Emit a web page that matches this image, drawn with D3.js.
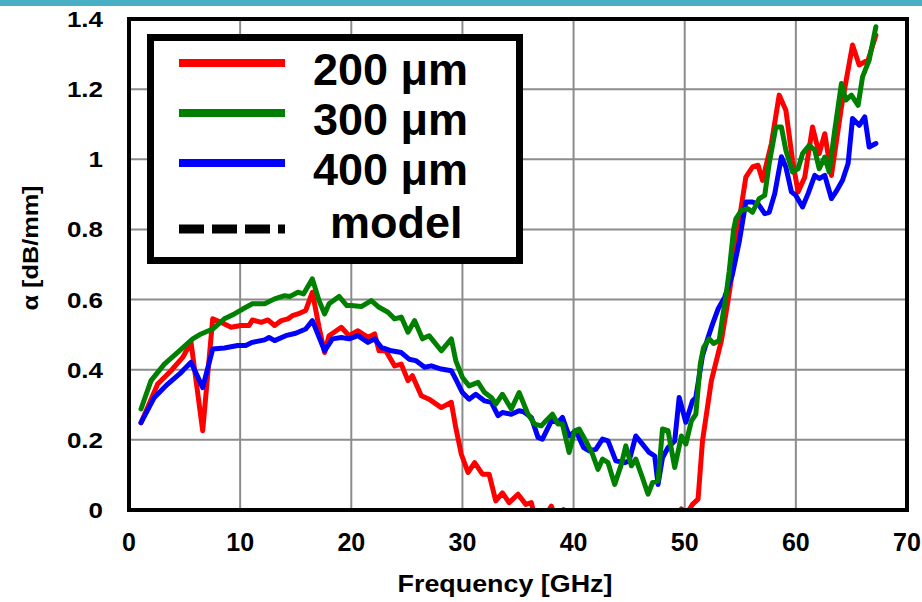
<!DOCTYPE html>
<html>
<head>
<meta charset="utf-8">
<script src="https://cdn.jsdelivr.net/npm/d3@7"></script>
<style>
    body { margin: 0; background: #fff; }
    text { font-family: Arial, "Liberation Sans", sans-serif; font-weight: bold; fill: #000; }
</style>
</head>
<body>
<div id="chart"></div>
<script>
// measured attenuation, 200 um
const freq200 = [1.08, 2.58, 3.78, 4.83, 5.58, 6.63, 7.53, 8.28, 9.18, 10.08, 10.8, 11.1, 11.9, 12.5, 13.1, 13.7, 14.3, 14.7, 15.2, 15.9, 16.5, 17.1, 17.6, 18.0, 19.1, 19.8, 20.6, 21.5, 22.1, 22.5, 23.1, 23.9, 24.5, 25.1, 25.5, 26.3, 27.0, 28.1, 29.0, 29.4, 29.9, 30.5, 31.1, 31.8, 32.4, 33.0, 33.6, 34.2, 35.0, 35.7, 36.2, 36.6, 37.4, 38.0, 38.5, 39.1, 39.8, 41.0, 42.5, 44.0, 45.5, 47.0, 48.5, 49.2, 49.7, 50.2, 50.7, 51.2, 51.6, 52.4, 53.3, 53.9, 54.5, 54.9, 55.5, 56.1, 56.6, 57.0, 57.8, 58.5, 59.1, 59.7, 60.2, 60.8, 61.5, 62.1, 62.6, 63.2, 64.1, 65.1, 65.7, 66.5, 67.2];
const alpha200 = [0.249, 0.359, 0.397, 0.435, 0.478, 0.226, 0.545, 0.535, 0.521, 0.526, 0.526, 0.542, 0.535, 0.542, 0.526, 0.54, 0.545, 0.554, 0.559, 0.569, 0.621, 0.521, 0.449, 0.497, 0.521, 0.497, 0.511, 0.492, 0.502, 0.454, 0.454, 0.411, 0.416, 0.369, 0.383, 0.326, 0.316, 0.292, 0.307, 0.235, 0.159, 0.107, 0.135, 0.102, 0.102, 0.026, 0.049, 0.021, 0.045, 0.016, 0.021, -0.03, -0.02, 0.011, -0.03, 0.001, -0.04, -0.06, -0.05, -0.07, -0.05, -0.06, -0.04, -0.02, 0.003, -0.01, 0.016, 0.031, 0.197, 0.369, 0.483, 0.597, 0.721, 0.826, 0.949, 0.978, 0.983, 0.94, 1.045, 1.183, 1.14, 0.997, 0.907, 0.949, 1.092, 1.016, 1.073, 0.954, 1.149, 1.326, 1.269, 1.283, 1.354];

// measured attenuation, 300 um
const freq300 = [1.08, 1.98, 3.18, 4.53, 5.73, 6.48, 7.53, 8.58, 9.48, 10.23, 11.1, 12.2, 13.1, 14.0, 14.5, 15.2, 15.7, 16.5, 17.1, 17.6, 18.0, 18.9, 19.6, 20.0, 20.9, 21.8, 22.5, 23.3, 23.9, 24.5, 25.1, 25.7, 26.4, 27.0, 28.1, 29.0, 29.4, 30.0, 30.6, 31.4, 32.0, 32.6, 33.0, 33.6, 34.4, 35.1, 35.9, 36.5, 37.1, 37.5, 38.1, 38.6, 39.0, 39.6, 40.1, 40.5, 41.1, 41.7, 42.2, 42.6, 43.1, 43.7, 44.3, 44.7, 45.2, 45.6, 46.2, 46.7, 47.1, 47.6, 48.0, 48.5, 49.1, 49.7, 50.1, 50.6, 51.0, 51.4, 51.7, 52.2, 52.6, 53.1, 53.4, 53.7, 54.0, 54.4, 54.6, 55.1, 55.7, 56.1, 56.7, 57.2, 57.6, 58.2, 58.7, 59.1, 59.7, 60.2, 60.6, 61.2, 61.7, 62.1, 62.6, 63.0, 63.5, 64.1, 64.5, 65.0, 65.6, 66.0, 66.6, 67.2];
const alpha300 = [0.288, 0.369, 0.416, 0.454, 0.488, 0.502, 0.516, 0.545, 0.559, 0.573, 0.588, 0.588, 0.602, 0.611, 0.609, 0.621, 0.616, 0.659, 0.597, 0.559, 0.588, 0.609, 0.583, 0.583, 0.58, 0.597, 0.578, 0.564, 0.545, 0.55, 0.507, 0.54, 0.488, 0.497, 0.454, 0.488, 0.426, 0.378, 0.354, 0.364, 0.335, 0.321, 0.302, 0.330, 0.288, 0.335, 0.273, 0.245, 0.240, 0.254, 0.273, 0.245, 0.245, 0.164, 0.226, 0.231, 0.197, 0.159, 0.116, 0.145, 0.135, 0.073, 0.130, 0.183, 0.126, 0.145, 0.092, 0.045, 0.078, 0.083, 0.231, 0.226, 0.121, 0.211, 0.188, 0.254, 0.273, 0.416, 0.464, 0.488, 0.475, 0.483, 0.549, 0.607, 0.68, 0.80, 0.83, 0.854, 0.859, 0.849, 0.888, 0.897, 0.988, 1.092, 1.092, 1.026, 0.964, 0.973, 1.016, 1.04, 1.026, 0.973, 1.006, 0.964, 1.083, 1.216, 1.169, 1.183, 1.154, 1.235, 1.283, 1.378];

// measured attenuation, 400 um
const freq400 = [1.08, 2.28, 3.48, 4.68, 5.58, 6.63, 7.53, 8.58, 9.78, 10.5, 11.1, 12.2, 12.6, 13.1, 14.1, 15.0, 15.9, 16.5, 17.6, 18.3, 19.1, 19.8, 20.6, 21.5, 22.1, 22.7, 23.6, 24.5, 25.2, 25.8, 26.6, 27.2, 28.1, 29.0, 29.4, 30.0, 30.6, 31.2, 32.0, 32.6, 33.2, 33.6, 34.4, 35.1, 35.5, 36.2, 36.8, 37.2, 38.0, 38.6, 39.0, 39.6, 40.2, 40.9, 41.4, 42.0, 42.6, 43.1, 43.8, 44.6, 45.0, 45.6, 46.2, 46.8, 47.3, 47.6, 48.0, 48.5, 49.1, 49.5, 50.1, 50.7, 51.0, 51.6, 52.1, 52.5, 53.0, 53.6, 54.3, 54.9, 55.5, 56.1, 56.6, 57.2, 57.6, 58.1, 58.7, 59.1, 59.6, 60.0, 60.6, 61.1, 61.7, 62.1, 62.6, 63.2, 63.6, 64.2, 64.7, 65.1, 65.7, 66.2, 66.6, 67.2];
const alpha400 = [0.249, 0.321, 0.359, 0.392, 0.421, 0.349, 0.459, 0.462, 0.469, 0.469, 0.478, 0.485, 0.492, 0.483, 0.497, 0.504, 0.516, 0.54, 0.454, 0.488, 0.492, 0.488, 0.497, 0.478, 0.488, 0.464, 0.454, 0.449, 0.430, 0.426, 0.407, 0.411, 0.402, 0.397, 0.373, 0.335, 0.316, 0.330, 0.311, 0.307, 0.269, 0.278, 0.273, 0.283, 0.28, 0.264, 0.207, 0.202, 0.254, 0.250, 0.264, 0.211, 0.226, 0.178, 0.169, 0.173, 0.202, 0.197, 0.140, 0.135, 0.140, 0.211, 0.188, 0.164, 0.154, 0.073, 0.149, 0.178, 0.197, 0.321, 0.25, 0.311, 0.321, 0.44, 0.492, 0.530, 0.573, 0.607, 0.673, 0.764, 0.878, 0.878, 0.873, 0.845, 0.849, 0.902, 1.007, 0.978, 0.907, 0.897, 0.864, 0.902, 0.954, 0.945, 0.954, 0.888, 0.907, 0.94, 0.988, 1.116, 1.097, 1.121, 1.035, 1.045];

const xTicks = [0, 10, 20, 30, 40, 50, 60, 70];
const yTicks = [0, 0.2, 0.4, 0.6, 0.8, 1, 1.2, 1.4];
const yTickLabels = ["0", "0.2", "0.4", "0.6", "0.8", "1", "1.2", "1.4"];
const legendLabels = ["200 \u03BCm", "300 \u03BCm", "400 \u03BCm", "model"];

// drawing order: red under blue under green
const series = [
    {freq: freq200, alpha: alpha200, color: "#ff0000"},
    {freq: freq400, alpha: alpha400, color: "#0000ff"},
    {freq: freq300, alpha: alpha300, color: "#008000"}
];

let width = 922, height = 602;
let plot = {left: 129, top: 19, right: 907, bottom: 510};

let svg = d3.select("#chart").append("svg")
    .attr("width", width)
    .attr("height", height);

// teal band across the top
svg.append("rect")
    .attr("x", 0).attr("y", 0)
    .attr("width", width).attr("height", 6)
    .attr("fill", "#48afc5");

let x = d3.scaleLinear().domain([0, 70]).range([plot.left, plot.right]);
let y = d3.scaleLinear().domain([0, 1.4]).range([plot.bottom, plot.top]);

// grid lines
svg.append("g")
    .selectAll("line.vgrid")
    .data(xTicks.slice(1, -1))
    .enter().append("line")
    .attr("x1", d => x(d)).attr("x2", d => x(d))
    .attr("y1", plot.top).attr("y2", plot.bottom)
    .attr("stroke", "#8c8c8c").attr("stroke-width", 2);

svg.append("g")
    .selectAll("line.hgrid")
    .data(yTicks.slice(1, -1))
    .enter().append("line")
    .attr("x1", plot.left).attr("x2", plot.right)
    .attr("y1", d => y(d)).attr("y2", d => y(d))
    .attr("stroke", "#8c8c8c").attr("stroke-width", 2);

svg.append("clipPath").attr("id", "plotClip")
    .append("rect")
    .attr("x", plot.left).attr("y", plot.top)
    .attr("width", plot.right - plot.left).attr("height", plot.bottom - plot.top);

let line = d3.line()
    .x(d => x(d[0]))
    .y(d => y(d[1]));

let curves = svg.append("g").attr("clip-path", "url(#plotClip)");
series.forEach(function (s) {
    curves.append("path")
        .datum(d3.zip(s.freq, s.alpha))
        .attr("d", line)
        .attr("fill", "none")
        .attr("stroke", s.color)
        .attr("stroke-width", 5)
        .attr("stroke-linejoin", "round")
        .attr("stroke-linecap", "round");
});

// plot frame
svg.append("rect")
    .attr("x", plot.left).attr("y", plot.top)
    .attr("width", plot.right - plot.left).attr("height", plot.bottom - plot.top)
    .attr("fill", "none")
    .attr("stroke", "#000").attr("stroke-width", 4);

// tick labels
svg.append("g")
    .selectAll("text")
    .data(xTicks)
    .enter().append("text")
    .attr("x", d => x(d))
    .attr("y", 551)
    .attr("text-anchor", "middle")
    .style("font-size", "25px")
    .text(d => d);

svg.append("g")
    .selectAll("text")
    .data(yTicks)
    .enter().append("text")
    .attr("transform", d => "translate(103," + (y(d) + 8) + ") scale(1.18,1)")
    .attr("text-anchor", "end")
    .style("font-size", "22px")
    .text((d, i) => yTickLabels[i]);

// axis titles
svg.append("text")
    .attr("transform", "translate(505,592) scale(1.12,1)")
    .attr("text-anchor", "middle")
    .style("font-size", "24px")
    .text("Frequency [GHz]");

svg.append("text")
    .attr("transform", "translate(38,248) rotate(-90) scale(1.15,1)")
    .attr("text-anchor", "middle")
    .style("font-size", "22px")
    .text("\u03B1 [dB/mm]");

// legend
let legend = svg.append("g");
legend.append("rect")
    .attr("x", 150.5).attr("y", 37.5)
    .attr("width", 369).attr("height", 223)
    .attr("fill", "#fff")
    .attr("stroke", "#000").attr("stroke-width", 7);

let legendColors = ["#ff0000", "#008000", "#0000ff", "#000"];
let legendY = [63, 113, 163, 229];
let legendTextY = [85, 135, 185, 238];
let legendTextX = [313, 313, 313, 330];

legendLabels.forEach(function (label, i) {
    legend.append("line")
        .attr("x1", 179).attr("x2", 285)
        .attr("y1", legendY[i]).attr("y2", legendY[i])
        .attr("stroke", legendColors[i])
        .attr("stroke-width", i === 3 ? 9 : 8)
        .attr("stroke-dasharray", i === 3 ? "25,8" : null);
    legend.append("text")
        .attr("x", legendTextX[i])
        .attr("y", legendTextY[i])
        .style("font-size", "45px")
        .text(label);
});
</script>
</body>
</html>
